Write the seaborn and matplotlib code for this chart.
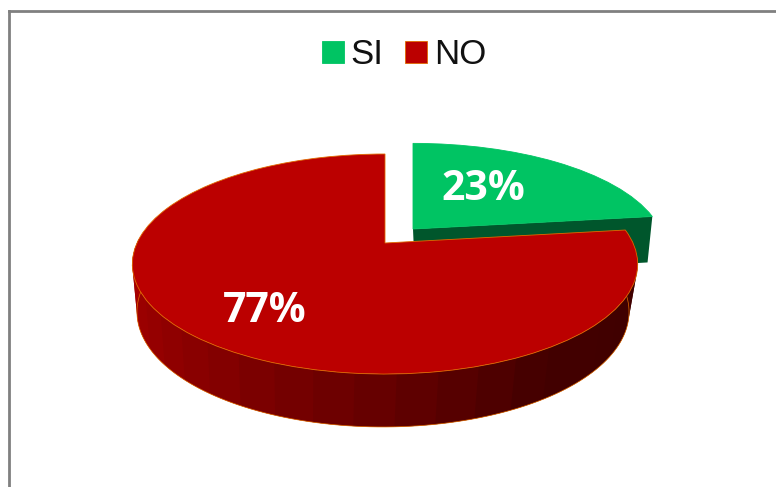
import numpy as np
import matplotlib
matplotlib.use("Agg")
import matplotlib.pyplot as plt
import seaborn as sns
from matplotlib.transforms import Transform

labels = ["SI", "NO"]
values = [23, 77]
colors = ["#00c463", "#bb0000"]
edges = ["#00c463", "#e06a00"]

sns.set_theme(style="white")
plt.rcParams["font.family"] = ["Liberation Sans", "DejaVu Sans"]


# pie plane to pixels, with a bit of perspective so the far side looks smaller
class Tilt(Transform):
    input_dims = 2
    output_dims = 2

    def __init__(self, x0, y0, rx, ry, b=0.191):
        super().__init__()
        self.x0, self.y0, self.rx, self.ry, self.b = x0, y0, rx, ry, b

    def transform_non_affine(self, values):
        values = np.asarray(values, dtype=float)
        w = 1 + self.b * values[:, 1]
        return np.column_stack([self.x0 + self.rx * values[:, 0] / w,
                                self.y0 - self.ry * values[:, 1] / w])


def rim(theta):
    t = np.radians(theta)
    return np.column_stack([np.cos(t), np.sin(t)])


fig = plt.figure(figsize=(7.76, 4.87), dpi=100)
ax = fig.add_axes([9 / 776, 0, 767 / 776, 476 / 487])

wedges, _, autotexts = ax.pie(values, colors=colors, startangle=90, counterclock=False,
                              autopct="%1.0f%%", frame=True,
                              textprops={"color": "white", "fontsize": 29.5,
                                         "fontweight": "bold", "family": "Open Sans"})
si, no = wedges
si_top = Tilt(413, 229, 247, 102)
no_top = Tilt(385, 243, 248, 106)
no_low = Tilt(383, 290, 241.5, 110.8)
si.set_transform(si_top + ax.transData)
no.set_transform(no_top + ax.transData)
for w, e in zip(wedges, edges):
    w.set_edgecolor(e)
    w.set_linewidth(0.6)
si.set_zorder(3)
no.set_zorder(6)

# cut face of the SI slice
cut = np.array([[0, 0], *rim(si.theta1)])
top = si_top.transform(cut)
low = Tilt(415, 276, 240, 110.8).transform(cut)
ax.fill(*np.vstack([top, low[::-1]]).T, color="#00562c", lw=0, zorder=2)

# side wall of the NO slice, shaded in bands, each one runs under the next
n_bands = 24
steps = np.linspace(no.theta2, no.theta2 - 190, n_bands + 1)
shades = sns.blend_palette(["#400000", "#400000", "#430000", "#620000", "#7e0000", "#960000", "#aa0000"], n_bands)
for i in range(n_bands):
    arc = rim(np.linspace(steps[i], steps[min(i + 2, n_bands)], 10))
    poly = np.vstack([no_top.transform(arc), no_low.transform(arc)[::-1]])
    ax.fill(*poly.T, facecolor=shades[i], edgecolor="none", zorder=4 + i * 0.01)
ax.plot(*no_low.transform(rim(np.linspace(steps[1], steps[-1], 120))).T,
        color="#e06a00", lw=0.5, zorder=5)

autotexts[0].set_position((483, 189))
autotexts[1].set_position((265, 311))
for t in autotexts:
    t.set_zorder(8)

ax.set_aspect("auto")
ax.set_xlim(9, 776)
ax.set_ylim(487, 11)
ax.set_xticks([])
ax.set_yticks([])
for side in ["right", "bottom"]:
    ax.spines[side].set_visible(False)
for side in ["left", "top"]:
    ax.spines[side].set_color("#808080")
    ax.spines[side].set_linewidth(2)

ax.legend(wedges, labels, ncol=2, loc="center", bbox_to_anchor=(404, 55),
          bbox_transform=ax.transData, frameon=False, fontsize=25, labelcolor="#111111",
          handlelength=0.63, handleheight=0.58, handletextpad=0.2, columnspacing=0.63)

plt.savefig("out.png", dpi=100)
